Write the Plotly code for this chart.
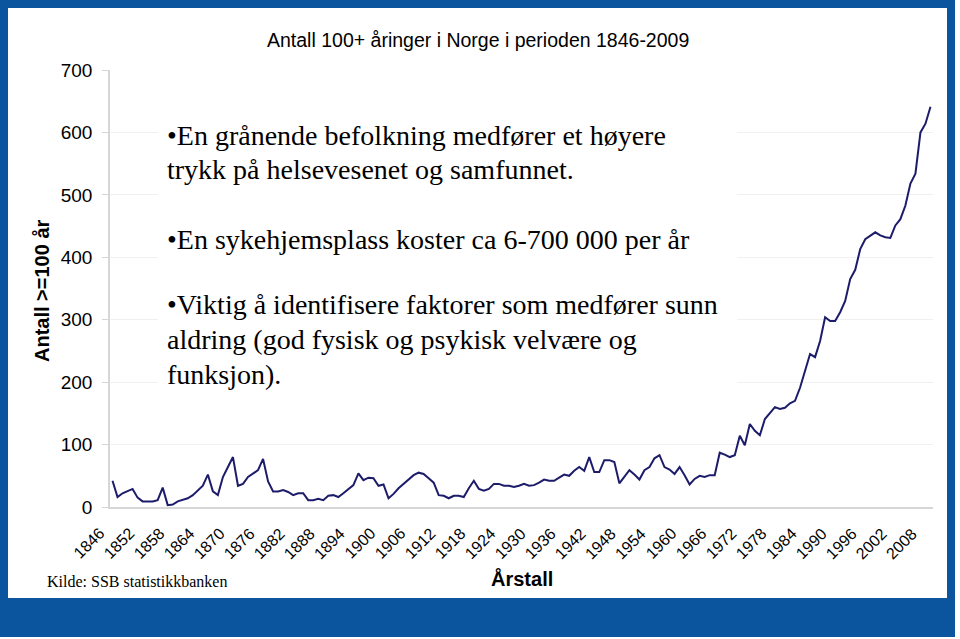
"""
Antall 100+ åringer i Norge 1846-2009 (lysbilde-graf).
"""

import plotly.graph_objects as go

# --- data ---
years = list(range(1846, 2010))
antall = [
    42, 16, 22, 25, 29, 15, 9, 9, 9, 11,
    31, 3, 4, 9, 11, 14, 19, 26, 34, 52,
    25, 19, 48, 64, 80, 34, 37, 48, 54, 59,
    77, 41, 25, 25, 27, 24, 19, 22, 22, 11,
    11, 13, 11, 18, 19, 16, 22, 28, 35, 54,
    43, 47, 46, 34, 36, 14, 21, 30, 37, 44,
    51, 55, 53, 46, 39, 19, 18, 14, 18, 18,
    16, 30, 42, 29, 26, 29, 37, 37, 34, 34,
    32, 34, 37, 34, 35, 39, 44, 42, 42, 47,
    52, 50, 58, 64, 58, 80, 56, 56, 75, 75,
    72, 38, 48, 59, 52, 44, 59, 64, 78, 83,
    64, 60, 53, 64, 51, 36, 45, 50, 48, 51,
    51, 87, 84, 80, 83, 114, 99, 133, 122, 115,
    141, 151, 160, 157, 159, 166, 170, 191, 218, 245,
    240, 266, 304, 298, 298, 312, 330, 365, 380, 413,
    429, 435, 440, 435, 432, 431, 451, 461, 483, 518,
    534, 600, 614, 641,
]
tick_years = list(range(1846, 2010, 6))
y_ticks = [0, 100, 200, 300, 400, 500, 600, 700]

tittel = "Antall 100+ åringer i Norge i perioden 1846-2009"
punkter = [
    ("•En grånende befolkning medfører et høyere", 135),
    ("trykk på helsevesenet og samfunnet.", 169),
    ("•En sykehjemsplass koster ca 6-700 000 per år", 239),
    ("•Viktig å identifisere faktorer som medfører sunn", 304),
    ("aldring (god fysisk og psykisk velvære og", 339),
    ("funksjon).", 374),
]

# --- geometri (piksler) ---
W, H = 960, 639
PL, PR, PT, PB = 110, 933, 70, 507
BLUE = "#0b559e"
SANS = "Liberation Sans, Arial, sans-serif"
SERIF = "Liberation Serif, Times New Roman, serif"


def px(x):
    return (x - PL) / (PR - PL)


def py(y):
    return (PB - y) / (PB - PT)


def tekst(t, x, y, size, family=SANS, xanchor="center", angle=0):
    return dict(text=t, x=px(x), y=py(y), xref="paper", yref="paper",
                xanchor=xanchor, yanchor="middle", showarrow=False, textangle=angle,
                font=dict(family=family, size=size, color="black"))


fig = go.Figure()
fig.add_trace(go.Scatter(
    x=years, y=antall, mode="lines",
    line=dict(color="#1c1c6a", width=2),
    showlegend=False, hoverinfo="x+y",
))

shapes = []
# blå ramme rundt lysbildet
for x0, y0, x1, y1 in [(0, 0, 955, 8), (0, 0, 8, 637), (947, 0, 955, 637), (0, 598, 955, 637)]:
    shapes.append(dict(type="rect", xref="paper", yref="paper", layer="above",
                       x0=px(x0), x1=px(x1), y0=py(y1), y1=py(y0),
                       fillcolor=BLUE, line=dict(width=0)))
# hvit tekstboks over grafen
shapes.append(dict(type="rect", xref="paper", yref="paper", layer="above",
                   x0=px(158), x1=px(737), y0=py(395), y1=py(110),
                   fillcolor="white", line=dict(width=0)))

annotations = [
    tekst(tittel, 478, 40, 19.5),
    tekst("<b>Antall >=100 år</b>", 42, 291, 20, angle=-90),
    tekst("<b>Årstall</b>", 522, 578, 20),
    tekst("Kilde: SSB statistikkbanken", 45, 581, 16, family=SERIF, xanchor="left"),
]
for t, yy in punkter:
    annotations.append(tekst(t, 165, yy, 28, family=SERIF, xanchor="left"))

# årstall-etiketter på skrå, litt til venstre for hvert merke
for yr in tick_years:
    annotations.append(dict(text=str(yr), x=yr, y=py(543), xref="x", yref="paper",
                            xanchor="center", yanchor="middle", xshift=-24,
                            showarrow=False, textangle=-45,
                            font=dict(family=SANS, size=16, color="black")))

fig.update_layout(
    width=W, height=H,
    margin=dict(l=PL, r=W - PR, t=PT, b=H - PB),
    paper_bgcolor="white", plot_bgcolor="white",
    shapes=shapes, annotations=annotations,
    font=dict(family=SANS, color="black"),
)
fig.update_xaxes(
    range=[1845.5, 2009.5], tickvals=tick_years, showticklabels=False,
    showgrid=False, zeroline=False, showline=True, linecolor="#d6d6d6", linewidth=1.5,
    ticks="",
)
fig.update_yaxes(
    range=[0, 700], tickvals=y_ticks,
    tickfont=dict(family=SANS, size=19, color="black"),
    showgrid=True, gridcolor="#f0f0f0", gridwidth=1, zeroline=False,
    showline=True, linecolor="#d6d6d6", linewidth=1.5,
    ticks="outside", ticklen=6, tickcolor="#d6d6d6", ticklabelstandoff=6,
)

fig.write_html("out.html", config={"displayModeBar": False},
               post_script="document.body.style.margin='0';")
